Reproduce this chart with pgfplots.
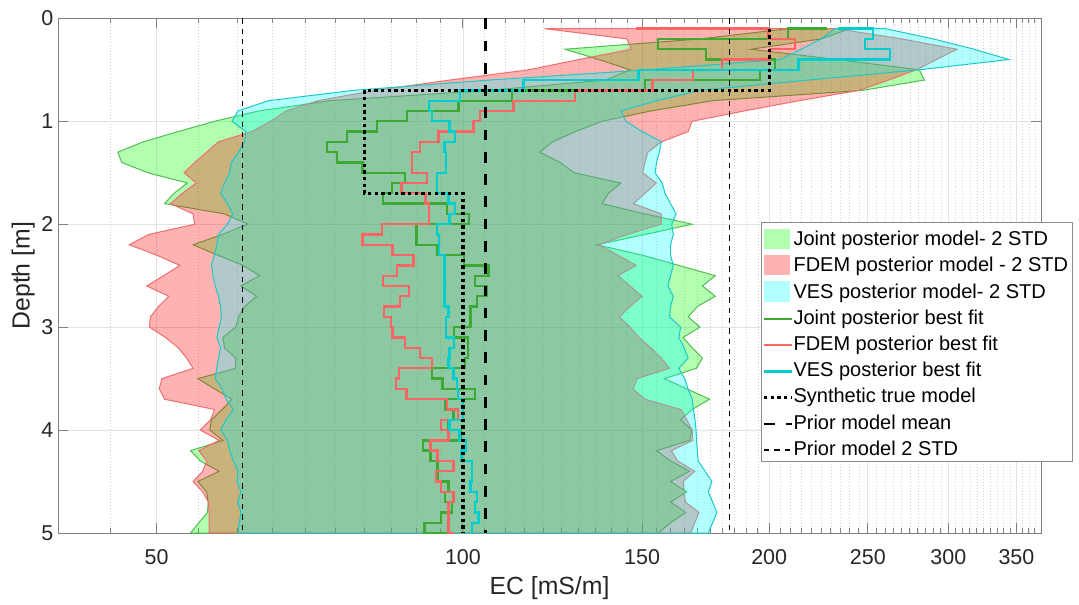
\documentclass[border=0pt]{standalone}
\usepackage{pgfplots}
\pgfplotsset{compat=1.18}
\usepackage{fontspec}
\setmainfont{Liberation Sans}
\definecolor{jfill}{rgb}{0,1,0}
\definecolor{ffill}{rgb}{1,0,0}
\definecolor{vfill}{rgb}{0,1,1}
\definecolor{jedge}{RGB}{80,190,80}
\definecolor{fedge}{RGB}{240,110,110}
\definecolor{vedge}{RGB}{30,200,200}
\definecolor{jline}{RGB}{60,170,50}
\definecolor{fline}{RGB}{255,100,100}
\definecolor{vline}{RGB}{0,205,205}
\begin{document}
\begin{tikzpicture}
\begin{axis}[
  at={(0,0)}, anchor=south west,
  scale only axis, width=737.25pt, height=386pt,
  xmode=log, xmin=40, xmax=370, ymin=0, ymax=5, y dir=reverse,
  xtick={50,100,150,200,250,300,350},
  xticklabels={50,100,150,200,250,300,350},
  minor xtick={45,55,60,65,70,75,80,85,90,95,105,110,115,120,125,130,135,140,145,155,160,165,170,175,180,185,190,195,205,210,215,220,225,230,235,240,245,255,260,265,270,275,280,285,290,295,305,310,315,320,325,330,335,340,345,355,360,365},
  ytick={0,1,2,3,4,5}, yticklabels={0,1,2,3,4,5},
  tick align=inside, xtick pos=both, ytick pos=both,
  major tick length=7.3pt, minor tick length=3.5pt,
  xmajorgrids, ymajorgrids, xminorgrids,
  major grid style={line width=0.6pt, black!11},
  minor grid style={line width=0.5pt, black!18, dash pattern=on 0.6pt off 1.6pt},
  axis line style={line width=0.75pt, black!50},
  every tick/.style={line width=0.75pt, black!50},
  tick label style={font=\fontsize{16.1}{19}\selectfont, text=black!85},
  xticklabel style={yshift=-8.5pt},
  label style={font=\fontsize{18.6}{22}\selectfont, text=black!85},
  xlabel={EC [mS/m]}, ylabel={Depth [m]},
  xlabel style={at={(axis description cs:0.5,-0.12)}, anchor=base},
  ylabel style={at={(axis description cs:-0.029,0.5)}, anchor=base},
  legend cell align=left,
  legend style={
    at={(0.7149,0.6037)}, anchor=north west,
    draw=black!45, line width=0.75pt, fill=white,
    font=\fontsize{15}{18}\selectfont, text=black,
    inner xsep=2pt, inner ysep=1pt, row sep=0pt,
    nodes={inner xsep=1.2pt, inner ysep=0pt, text height=16.2pt, text depth=3.45pt},
  },
  arealeg/.style={legend image code/.code={\path[draw=none,fill=none] (0pt,4.8pt) -- (21pt,4.8pt);\fill[##1, draw=none, overlay] (0pt,-8.95pt) rectangle (19.5pt,6.55pt);}},
  lineleg/.style={legend image code/.code={\path[draw=none,fill=none] (0pt,4.8pt) -- (21pt,4.8pt);\draw[##1, overlay] (0pt,-2.4pt) -- (21pt,-2.4pt);}},
]
% Joint posterior band
\addplot[arealeg, fill=jfill, fill opacity=0.3, draw=jedge, line width=0.75pt] coordinates {
(209,0.1) (171,0.2) (126,0.3) (136,0.4) (146,0.5) (138,0.6) (106,0.7) (74,0.8) (63,0.9) (57,1.0) (52.5,1.1) (48.5,1.2) (45.8,1.3) (46.2,1.4) (49,1.5) (53.6,1.6) (52,1.7) (50.9,1.8) (58.3,1.9) (61.5,2.0) (58,2.1) (54.3,2.2) (57.4,2.3) (60.8,2.4) (63.1,2.5) (60.5,2.6) (62.7,2.7) (61,2.8) (60.2,2.9) (59.8,3.0) (58.1,3.1) (58.3,3.2) (59.8,3.3) (59.8,3.4) (54.9,3.5) (57,3.6) (59.3,3.7) (58,3.8) (56.6,3.9) (56.4,4.0) (58.1,4.1) (54,4.2) (55.2,4.3) (57.6,4.4) (54.9,4.5) (56,4.6) (56.2,4.7) (56.1,4.8) (55,4.9) (54,5.0)
(155.6,5.0) (160,4.9) (165.6,4.8) (160,4.7) (166,4.6) (160,4.5) (167,4.4) (160,4.3) (155,4.2) (167,4.1) (168,4.0) (163.6,3.9) (168,3.8) (174.8,3.7) (166,3.6) (157.8,3.5) (169.6,3.4) (172,3.3) (168,3.2) (164.6,3.1) (171,3.0) (166.5,2.9) (170,2.8) (177,2.7) (172,2.6) (177,2.5) (163,2.4) (150,2.3) (135.4,2.2) (151,2.1) (168,2.0) (151,1.9) (137,1.8) (139,1.7) (143,1.6) (128.6,1.5) (124.6,1.4) (119,1.3) (122.5,1.2) (129,1.1) (137,1.0) (153,0.9) (176,0.8) (247,0.7) (284,0.6) (281,0.5) (233,0.4) (192,0.3) (225,0.2) (240,0.1) (209,0.1)};
\addlegendentry{Joint posterior model- 2 STD}
% FDEM posterior band
\addplot[arealeg, fill=ffill, fill opacity=0.3, draw=fedge, line width=0.75pt] coordinates {
(120.3,0.1) (145,0.2) (146.3,0.3) (130,0.4) (116,0.5) (97,0.6) (82,0.7) (72,0.8) (67,0.9) (64.7,1.0) (62,1.1) (57.5,1.2) (56,1.3) (54.5,1.4) (53.2,1.5) (54.7,1.6) (53,1.7) (51.6,1.8) (54.3,1.9) (54.5,2.0) (49.1,2.1) (47,2.2) (50,2.3) (52.7,2.4) (50.8,2.5) (48.9,2.6) (51.4,2.7) (50.2,2.8) (49.3,2.9) (49.2,3.0) (51,3.1) (52.5,3.2) (53.5,3.3) (54.3,3.4) (50.6,3.5) (50.3,3.6) (50.9,3.7) (57,3.8) (56.5,3.9) (55.2,4.0) (57.6,4.1) (55,4.2) (56,4.3) (55.5,4.4) (54.3,4.5) (55.5,4.6) (56.2,4.7) (56.3,4.8) (56.3,4.9) (56.3,5.0)
(167.5,5.0) (169,4.9) (170.6,4.8) (165.5,4.7) (165,4.6) (164.6,4.5) (169,4.4) (162.6,4.3) (160.3,4.2) (168.3,4.1) (168,4.0) (166,3.9) (163.8,3.8) (151,3.7) (147,3.6) (148.4,3.5) (159.6,3.4) (156.7,3.3) (153,3.2) (149,3.1) (146,3.0) (142.5,2.9) (146,2.8) (150,2.7) (146,2.6) (142,2.5) (148,2.4) (142,2.3) (136,2.2) (145,2.1) (156.7,2.0) (156.7,1.9) (147.1,1.8) (151,1.7) (154.9,1.6) (150.2,1.5) (151,1.4) (152,1.3) (156.7,1.2) (166.5,1.1) (168,1.0) (189,0.9) (214,0.8) (245,0.7) (262,0.6) (279,0.5) (292,0.4) (306,0.3) (270,0.2) (233,0.1) (120.3,0.1)};
\addlegendentry{FDEM posterior model - 2 STD}
% VES posterior band
\addplot[arealeg, fill=vfill, fill opacity=0.3, draw=vedge, line width=0.75pt] coordinates {
(232,0.1) (225,0.2) (215,0.3) (205,0.4) (152,0.5) (106,0.6) (78,0.7) (64.4,0.8) (60.1,0.9) (59.3,1.0) (61.2,1.1) (61,1.2) (60.2,1.3) (59.2,1.4) (59,1.5) (58.3,1.6) (57.8,1.7) (58.7,1.8) (59.4,1.9) (58.7,2.0) (57.5,2.1) (57.3,2.2) (57,2.3) (56.6,2.4) (56.8,2.5) (57.1,2.6) (57.5,2.7) (57.8,2.8) (57.9,2.9) (57.6,3.0) (57.3,3.1) (57.8,3.2) (57.5,3.3) (57.3,3.4) (57.1,3.5) (58,3.6) (58.5,3.7) (59.5,3.8) (58.5,3.9) (57.8,4.0) (58.7,4.1) (59,4.2) (59.5,4.3) (60.1,4.4) (60,4.5) (60.5,4.6) (60.1,4.7) (60.5,4.8) (60.3,4.9) (60.1,5.0)
(174.3,5.0) (176,4.9) (177.7,4.8) (176,4.7) (174.3,4.6) (175.7,4.5) (173,4.4) (170.3,4.3) (170,4.2) (169.7,4.1) (169.5,4.0) (169.1,3.9) (168.5,3.8) (168,3.7) (166.5,3.6) (165.2,3.5) (163,3.4) (166.5,3.3) (165,3.2) (163,3.1) (163.7,3.0) (159.6,2.9) (160,2.8) (161,2.7) (159,2.6) (160,2.5) (161,2.4) (160,2.3) (160,2.2) (161,2.1) (160.4,2.0) (162,1.9) (160,1.8) (158,1.7) (157,1.6) (154.5,1.5) (155,1.4) (156,1.3) (156.7,1.2) (150,1.1) (144.6,1.0) (143,0.9) (155,0.8) (171,0.7) (218,0.6) (281,0.5) (344,0.4) (318,0.3) (290,0.2) (260,0.1) (232,0.1)};
\addlegendentry{VES posterior model- 2 STD}
% Joint best fit
\addplot[lineleg, jline, line width=1.75pt] coordinates {
(228,0.1) (208.8,0.1) (208.8,0.2) (155.6,0.2) (155.6,0.3) (173.4,0.3) (173.4,0.4) (202.7,0.4) (202.7,0.5) (196,0.5) (196,0.6) (151,0.6) (151,0.7) (111.8,0.7) (111.8,0.8) (99,0.8) (99,0.9) (88.1,0.9) (88.1,1.0) (82.3,1.0) (82.3,1.1) (76.9,1.1) (76.9,1.2) (73.5,1.2) (73.5,1.3) (75.2,1.3) (75.2,1.4) (79.7,1.4) (79.7,1.5) (87.7,1.5) (87.7,1.6) (85.2,1.6) (85.2,1.7) (83.4,1.7) (83.4,1.8) (96.5,1.8) (96.5,1.9) (101.4,1.9) (101.4,2.0) (90,2.0) (90,2.2) (94.4,2.2) (94.4,2.3) (100.3,2.3) (100.3,2.4) (106,2.4) (106,2.5) (102.7,2.5) (102.7,2.6) (105.5,2.6) (105.5,2.7) (103.3,2.7) (103.3,2.8) (101.7,2.8) (101.7,3.0) (98,3.0) (98,3.1) (101.2,3.1) (101.2,3.3) (100.4,3.3) (100.4,3.4) (93.3,3.4) (93.3,3.5) (95.5,3.5) (95.5,3.6) (102.7,3.6) (102.7,3.7) (96,3.7) (96,3.8) (97.9,3.8) (97.9,3.9) (96.8,3.9) (96.8,4.0) (99.5,4.0) (99.5,4.1) (91.4,4.1) (91.4,4.2) (92.9,4.2) (92.9,4.3) (94.4,4.3) (94.4,4.5) (96.8,4.5) (96.8,4.6) (96,4.6) (96,4.7) (97.6,4.7) (97.6,4.8) (95.2,4.8) (95.2,4.9) (91.7,4.9) (91.7,5.0) (96.8,5.0)};
\addlegendentry{Joint posterior best fit}
% FDEM best fit
\addplot[lineleg, fline, line width=1.75pt] coordinates {
(148,0.1) (199.7,0.1) (199.7,0.2) (212,0.2) (212,0.3) (200.4,0.3) (200.4,0.4) (179.8,0.4) (179.8,0.5) (168.4,0.5) (168.4,0.6) (153.6,0.6) (153.6,0.7) (128.8,0.7) (128.8,0.8) (112.1,0.8) (112.1,0.9) (104,0.9) (104,1.0) (102.4,1.0) (102.4,1.1) (94.6,1.1) (94.6,1.2) (90.8,1.2) (90.8,1.3) (89.1,1.3) (89.1,1.5) (92.2,1.5) (92.2,1.6) (87,1.6) (87,1.7) (91.9,1.7) (91.9,1.8) (92.6,1.8) (92.6,2.0) (83.3,2.0) (83.3,2.1) (79.7,2.1) (79.7,2.2) (85.3,2.2) (85.3,2.3) (89.4,2.3) (89.4,2.4) (86.2,2.4) (86.2,2.5) (83.4,2.5) (83.4,2.6) (88.5,2.6) (88.5,2.7) (86.7,2.7) (86.7,2.8) (83.7,2.8) (83.7,2.9) (85,2.9) (85,3.0) (85.3,3.0) (85.3,3.1) (87.7,3.1) (87.7,3.2) (90.8,3.2) (90.8,3.3) (93.3,3.3) (93.3,3.4) (86.6,3.4) (86.6,3.5) (85.9,3.5) (85.9,3.6) (88,3.6) (88,3.7) (96.4,3.7) (96.4,3.8) (98.9,3.8) (98.9,3.9) (95.2,3.9) (95.2,4.0) (96.8,4.0) (96.8,4.1) (92.9,4.1) (92.9,4.2) (94.4,4.2) (94.4,4.3) (97.9,4.3) (97.9,4.4) (94.1,4.4) (94.1,4.5) (95.2,4.5) (95.2,4.6) (97.9,4.6) (97.9,4.7) (96.8,4.7) (96.8,5.0) (98,5.0)};
\addlegendentry{FDEM posterior best fit}
% VES best fit
\addplot[lineleg, vline, line width=1.75pt] coordinates {
(233.9,0.1) (252.9,0.1) (252.9,0.2) (248.5,0.2) (248.5,0.3) (263,0.3) (263,0.4) (213.7,0.4) (213.7,0.5) (148.8,0.5) (148.8,0.6) (114.7,0.6) (114.7,0.7) (99.3,0.7) (99.3,0.8) (92.6,0.8) (92.6,0.9) (93.3,0.9) (93.3,1.0) (97,1.0) (97,1.1) (98.2,1.1) (98.2,1.2) (95.9,1.2) (95.9,1.3) (96.3,1.3) (96.3,1.5) (94.3,1.5) (94.3,1.7) (96.8,1.7) (96.8,1.8) (98.2,1.8) (98.2,1.9) (97,1.9) (97,2.0) (94.3,2.0) (94.3,2.1) (94.7,2.1) (94.7,2.3) (95.9,2.3) (95.9,2.8) (96.8,2.8) (96.8,2.9) (96.3,2.9) (96.3,3.1) (98,3.1) (98,3.2) (97,3.2) (97,3.3) (96.8,3.3) (96.8,3.4) (97.9,3.4) (97.9,3.5) (98.6,3.5) (98.6,3.6) (98.9,3.6) (98.9,3.7) (100,3.7) (100,3.9) (97,3.9) (97,4.0) (99.2,4.0) (99.2,4.1) (100.7,4.1) (100.7,4.2) (99.7,4.2) (99.7,4.3) (102.1,4.3) (102.1,4.5) (101.7,4.5) (101.7,4.6) (103.3,4.6) (103.3,4.7) (102.8,4.7) (102.8,4.8) (103.6,4.8) (103.6,4.9) (102.1,4.9) (102.1,5.0)};
\addlegendentry{VES posterior best fit}
% Synthetic true model
\addplot[lineleg, black, line width=2.5pt, dash pattern=on 2.5pt off 2.5pt] coordinates {
(200,0.1) (200,0.7) (80,0.7) (80,1.7) (100,1.7) (100,5.0)};
\addlegendentry{Synthetic true model}
% Prior mean
\addplot[lineleg, black, line width=2pt, dash pattern=on 8pt off 8.7pt] coordinates {(105.3,0) (105.3,5)};
\addlegendentry{Prior model mean}
% Prior 2 STD
\addplot[lineleg, black, line width=0.9pt, dash pattern=on 4pt off 3.75pt] coordinates {(60.7,0) (60.7,5)};
\addlegendentry{Prior model 2 STD}
\addplot[forget plot, black, line width=0.9pt, dash pattern=on 4pt off 3.75pt] coordinates {(182.8,0) (182.8,5)};
\end{axis}
\pgfresetboundingbox
\path[use as bounding box] (-43.5pt,-53.25pt) rectangle (765.75pt,399.75pt);
\end{tikzpicture}
\end{document}
